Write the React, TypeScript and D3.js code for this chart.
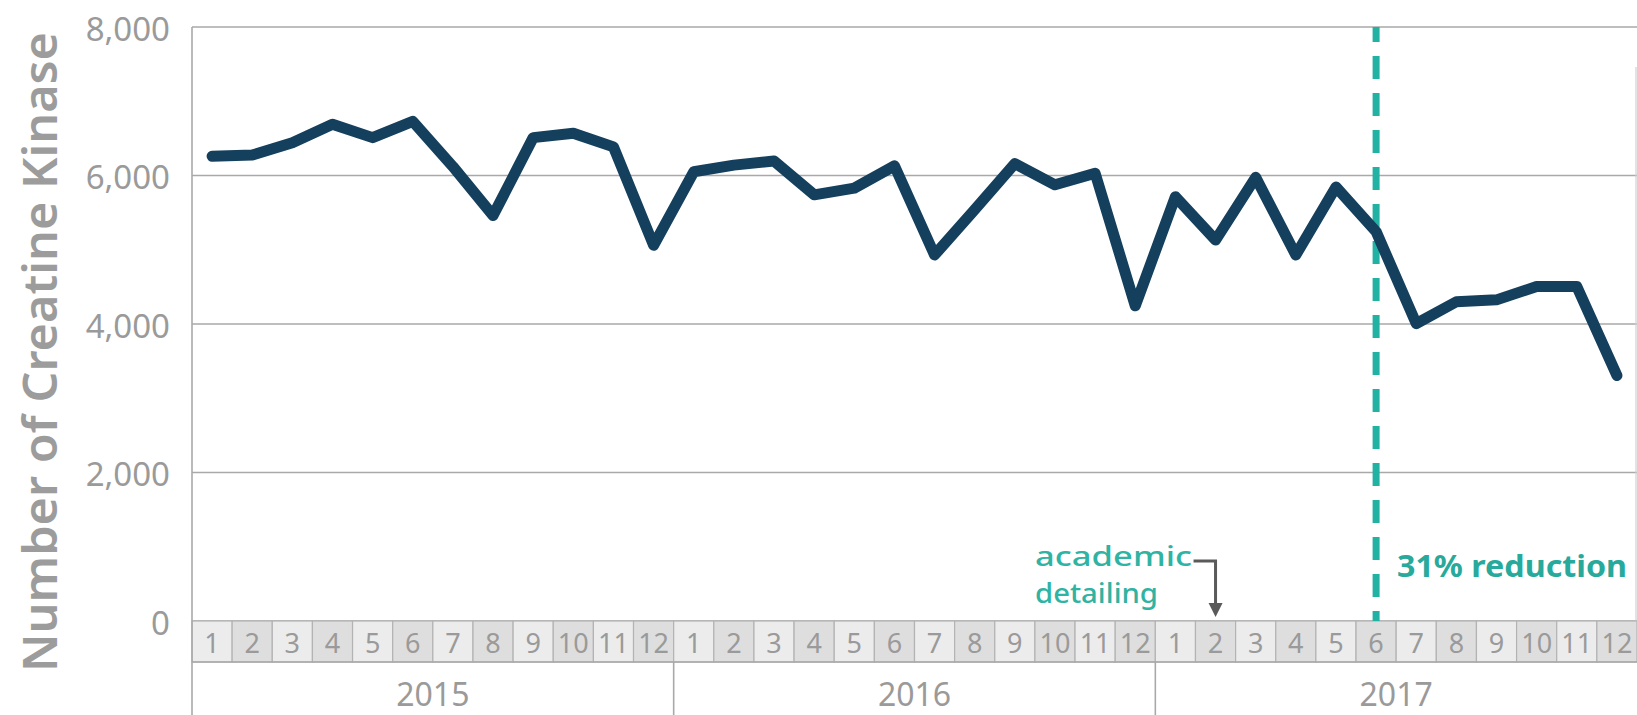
import React from "react";
import * as d3 from "d3";

const YEARS = ["2015", "2016", "2017"];
const MONTH_LABELS = ["1", "2", "3", "4", "5", "6", "7", "8", "9", "10", "11", "12"];
const Y_TICKS = [0, 2000, 4000, 6000, 8000];

const values2015 = [6260, 6275, 6440, 6690, 6510, 6730, 6120, 5460, 6510, 6570, 6385, 5060];
const values2016 = [6050, 6140, 6195, 5740, 5830, 6130, 4930, 5540, 6160, 5875, 6030, 4245];
const values2017 = [5715, 5130, 5975, 4930, 5845, 5245, 4005, 4300, 4325, 4505, 4505, 3305];

const INTERVENTION_INDEX = 25; // 2017 month 2 (academic detailing)
const REDUCTION_INDEX = 29; // 2017 month 6

const W = 1637;
const H = 715;
const FONT = "'Noto Sans', 'Open Sans', sans-serif";

export default function App() {
  const series = [...values2015, ...values2016, ...values2017];
  const idx = d3.range(series.length);

  const x = d3.scaleBand<number>().domain(idx).range([192, 1637]).padding(0);
  const y = d3.scaleLinear().domain([0, 8000]).range([621, 27]);
  const cx = (i: number) => (x(i) as number) + x.bandwidth() / 2;

  const line = d3
    .line<number>()
    .x((_, i) => cx(i))
    .y((d) => y(d));

  const bandTop = y(0);
  const bandBottom = 662;
  const fmt = d3.format(",");

  const yearX = (k: number) => x(k * 12) as number;
  const yearEnd = (k: number) => (x(k * 12 + 11) as number) + x.bandwidth();

  const ax = cx(INTERVENTION_INDEX);
  const rx = cx(REDUCTION_INDEX);

  return (
    <svg
      width={W}
      height={H}
      style={{ position: "absolute", left: 0, top: 0, display: "block", background: "#fff" }}
      fontFamily={FONT}
    >
      {/* gridlines */}
      {Y_TICKS.map((t) => (
        <line key={t} x1={192} x2={W} y1={y(t)} y2={y(t)} stroke="#a9a9a9" strokeWidth={1.6} />
      ))}
      {/* right faint edge */}
      <line x1={1636} x2={1636} y1={67} y2={bandTop} stroke="#d0d0d0" strokeWidth={1.2} />

      {/* y tick labels */}
      {Y_TICKS.map((t) => (
        <text
          key={t}
          x={170}
          y={y(t) + 1}
          textAnchor="end"
          dominantBaseline="central"
          fontSize={33}
          fill="#9a9a9a"
        >
          {fmt(t)}
        </text>
      ))}

      {/* y title */}
      <text
        transform={`translate(39, 352) rotate(-90)`}
        textAnchor="middle"
        dominantBaseline="central"
        fontSize={47}
        fontWeight={600}
        fill="#9c9c9c"
        textLength={640}
        lengthAdjust="spacingAndGlyphs"
      >
        Number of Creatine Kinase
      </text>

      {/* month band */}
      {idx.map((i) => (
        <g key={i}>
          <rect
            x={x(i)}
            y={bandTop}
            width={x.bandwidth()}
            height={bandBottom - bandTop}
            fill={i % 2 === 0 ? "#ececec" : "#dedede"}
            stroke="#b3b3b3"
            strokeWidth={1.2}
          />
          <text
            x={cx(i)}
            y={(bandTop + bandBottom) / 2 + 1}
            textAnchor="middle"
            dominantBaseline="central"
            fontSize={27}
            fill="#9a9a9a"
          >
            {MONTH_LABELS[i % 12]}
          </text>
        </g>
      ))}
      <line x1={192} x2={W} y1={bandBottom} y2={bandBottom} stroke="#a9a9a9" strokeWidth={1.6} />

      {/* year band */}
      {YEARS.map((yr, k) => (
        <g key={yr}>
          {k > 0 && (
            <line x1={yearX(k)} x2={yearX(k)} y1={bandBottom} y2={H} stroke="#a9a9a9" strokeWidth={1.6} />
          )}
          <text
            x={(yearX(k) + yearEnd(k)) / 2}
            y={693}
            textAnchor="middle"
            dominantBaseline="central"
            fontSize={32}
            fill="#9a9a9a"
          >
            {yr}
          </text>
        </g>
      ))}

      {/* left axis line */}
      <line x1={192} x2={192} y1={y(8000)} y2={H} stroke="#a9a9a9" strokeWidth={1.6} />

      {/* reduction dashed line */}
      <line
        x1={rx}
        x2={rx}
        y1={y(8000)}
        y2={bandTop}
        stroke="#22b2a3"
        strokeWidth={7}
        strokeDasharray="23 14"
        strokeDashoffset={8}
      />

      {/* data line */}
      <path
        d={line(series) || ""}
        fill="none"
        stroke="#143f5d"
        strokeWidth={11}
        strokeLinejoin="round"
        strokeLinecap="round"
      />

      {/* academic detailing annotation */}
      <text
        x={1035}
        y={566}
        fontSize={27}
        fontWeight={500}
        fill="#2fb3a3"
        textLength={157}
        lengthAdjust="spacingAndGlyphs"
      >
        academic
      </text>
      <text
        x={1035}
        y={603}
        fontSize={27}
        fontWeight={500}
        fill="#2fb3a3"
        textLength={123}
        lengthAdjust="spacingAndGlyphs"
      >
        detailing
      </text>
      <path
        d={`M ${ax - 22} 561 H ${ax} V 605`}
        fill="none"
        stroke="#5a5a5a"
        strokeWidth={3}
      />
      <polygon points={`${ax - 7},603 ${ax + 7},603 ${ax},617`} fill="#5a5a5a" />

      {/* 31% reduction */}
      <text
        x={1397}
        y={577}
        fontSize={30}
        fontWeight={700}
        fill="#27a99b"
        textLength={230}
        lengthAdjust="spacingAndGlyphs"
      >
        31% reduction
      </text>
    </svg>
  );
}
